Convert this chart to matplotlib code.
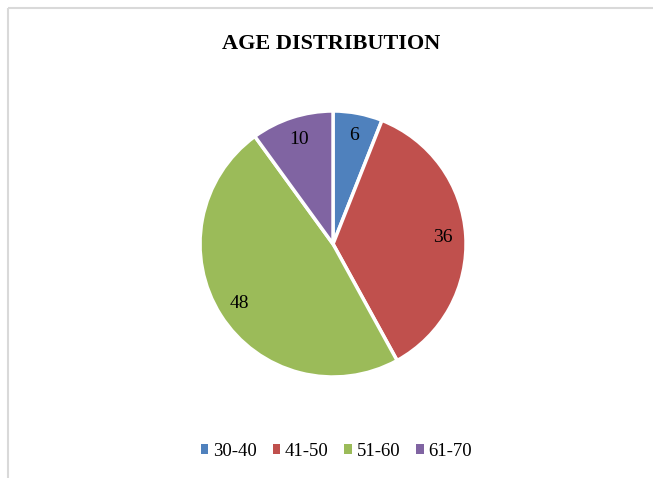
import matplotlib.pyplot as plt
from matplotlib.lines import Line2D

plt.rcParams['font.family'] = ['Liberation Serif', 'DejaVu Serif']

# data
age_groups = ['30-40', '41-50', '51-60', '61-70']
counts = [6, 36, 48, 10]
colors = ['#4F81BD', '#C0504D', '#9BBB59', '#8064A2']

fig = plt.figure(figsize=(6.53, 4.78), dpi=100)
ax = fig.add_axes([0.3063, 0.2113, 0.4074, 0.5565])

total = sum(counts)
wedges, texts, autotexts = ax.pie(
    counts, colors=colors, startangle=90, counterclock=False,
    autopct=lambda p: '{:.0f}'.format(p * total / 100.0),
    pctdistance=0.83,
    wedgeprops=dict(edgecolor='white', linewidth=2.5),
    textprops=dict(fontsize=14, color='black'))
ax.set_xlim(-1.0, 1.0)
ax.set_ylim(-1.0, 1.0)
ax.set_aspect('equal')

fig.text(0.507, 0.908, 'AGE DISTRIBUTION', ha='center', va='center',
         fontsize=16, fontweight='bold')

leg = fig.legend(wedges, age_groups, loc='center', bbox_to_anchor=(0.515, 0.056),
                 ncol=4, frameon=False, fontsize=13.5, handlelength=0.4,
                 handleheight=0.4, handletextpad=0.25, columnspacing=0.85)
for h in leg.legend_handles:
    h.set_edgecolor('none')

# light grey chart frame (top and left edges visible)
fig.add_artist(Line2D([0.012, 1.0], [0.983, 0.983], transform=fig.transFigure,
                      color='#D9D9D9', linewidth=1.5, solid_capstyle='butt'))
fig.add_artist(Line2D([0.012, 0.012], [0.0, 0.983], transform=fig.transFigure,
                      color='#D9D9D9', linewidth=1.5, solid_capstyle='butt'))

fig.savefig('out.png', dpi=100)
